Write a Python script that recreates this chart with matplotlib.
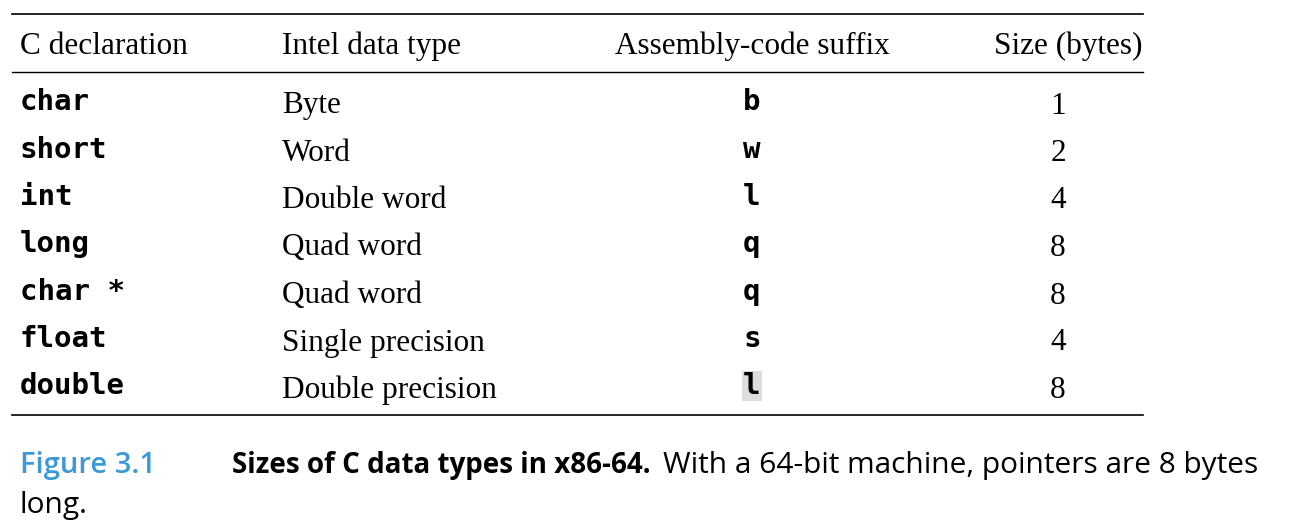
import matplotlib
matplotlib.use("Agg")
import matplotlib.pyplot as plt

W, H = 1290, 530

headers = ["C declaration", "Intel data type", "Assembly-code suffix", "Size (bytes)"]
c_decls = ["char", "short", "int", "long", "char *", "float", "double"]
intel_types = ["Byte", "Word", "Double word", "Quad word", "Quad word",
               "Single precision", "Double precision"]
suffixes = ["b", "w", "l", "q", "q", "s", "l"]
sizes = [1, 2, 4, 8, 8, 4, 8]

row_y = [104, 152, 199, 246, 294, 341, 388]

SERIF = "Liberation Serif"
MONO = "DejaVu Sans Mono"
SANS = "Open Sans"
FS = 22.5
MS = 21


def fy(py):
    return 1 - py / H


def fx(px):
    return px / W


fig = plt.figure(figsize=(W / 100, H / 100), dpi=100)

for py, lw in [(14, 1.2), (72, 1.0), (415, 1.2)]:
    fig.add_artist(plt.Line2D([fx(12), fx(1143)], [fy(py), fy(py)], color="black", lw=lw))

hy = fy(46)
fig.text(fx(20), hy, headers[0], family=SERIF, fontsize=FS, va="center", ha="left")
fig.text(fx(282), hy, headers[1], family=SERIF, fontsize=FS, va="center", ha="left")
fig.text(fx(752), hy, headers[2], family=SERIF, fontsize=FS, va="center", ha="center")
fig.text(fx(1143), hy, headers[3], family=SERIF, fontsize=FS, va="center", ha="right")

for i, y in enumerate(row_y):
    yy = fy(y)
    fig.text(fx(20), fy(y - 2), c_decls[i], family=MONO, weight="bold", fontsize=MS,
             va="center", ha="left")
    fig.text(fx(282), fy(y + 2), intel_types[i], family=SERIF, fontsize=FS,
             va="center", ha="left")
    kw = {}
    if i == len(row_y) - 1:
        kw["bbox"] = dict(facecolor="#dddddd", edgecolor="none", pad=1)
    fig.text(fx(752), fy(y - 2), suffixes[i], family=MONO, weight="bold", fontsize=MS,
             va="center", ha="center", **kw)
    fig.text(fx(1058), fy(y + 2), str(sizes[i]), family=SERIF, fontsize=FS,
             va="center", ha="center")

cy = fy(465)
fig.text(fx(20), cy, "Figure 3.1", family=SANS, weight="semibold", color="#3a9ad9",
         fontsize=21, va="center", ha="left")
fig.text(fx(232), cy, "Sizes of C data types in x86-64.", family=SANS, weight="bold",
         fontsize=20, va="center", ha="left")
fig.text(fx(663), cy, "With a 64-bit machine, pointers are 8 bytes", family=SANS,
         fontsize=21.5, va="center", ha="left")
fig.text(fx(20), fy(505), "long.", family=SANS, fontsize=21.5, va="center", ha="left")

fig.savefig("out.png", dpi=100, facecolor="white")
